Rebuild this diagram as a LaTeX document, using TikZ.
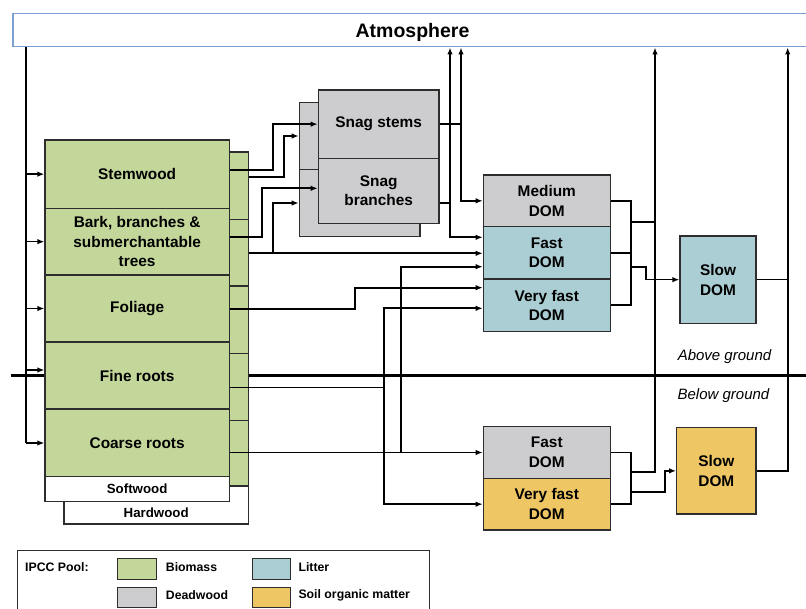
\documentclass[tikz,border=0pt]{standalone}
\usepackage{fontspec}
\setmainfont{Liberation Sans}
\usetikzlibrary{arrows.meta,calc}
\definecolor{bio}{RGB}{196,215,155}
\definecolor{dead}{RGB}{205,205,207}
\definecolor{lit}{RGB}{171,206,212}
\definecolor{soil}{RGB}{238,198,100}
\definecolor{atmb}{RGB}{125,160,212}
\definecolor{edge}{RGB}{45,45,45}
\tikzset{
  pool/.style={draw=edge, line width=1.2pt, inner sep=0pt, align=center,
    font=\fontsize{15.4}{19.7}\selectfont\bfseries},
  plain/.style={draw=edge, line width=1.2pt, inner sep=0pt},
  conn/.style={line width=1.7pt, draw=black},
  arr/.style={conn, -{Latex[length=7pt,width=5.5pt]}},
  ground/.style={line width=2.6pt, draw=black},
  lab/.style={inner sep=0pt, font=\fontsize{12.3}{14}\selectfont\bfseries},
  woodlab/.style={inner sep=0pt, font=\fontsize{13.3}{15}\selectfont\bfseries},
  zone/.style={inner sep=0pt, font=\fontsize{15}{18}\selectfont\itshape},
}
\begin{document}
\begin{tikzpicture}[x=1pt,y=-1pt]
\useasboundingbox (0,0) rectangle (806,609);
\fill[white] (0,0) rectangle (806,609);

% atmosphere
\node[draw=atmb, line width=1.6pt, fill=white, inner sep=0pt, minimum width=799pt, minimum height=33.2pt] (atm) at (412.5,30.1) {};
\node[inner sep=0pt, font=\fontsize{19.5}{22}\selectfont\bfseries] (atmlabel) at (412.5,32) {Atmosphere};

% ground line (behind biomass)
\coordinate (gl) at (11,375.5);
\coordinate (gr) at (806,375.5);
\draw[ground] (gl) -- (gr);

% hardwood (back) biomass stack
\node[plain, fill=white, minimum width=184.3pt, minimum height=38pt] (hw) at (156.15,505) {};
\node[plain, fill=bio, minimum width=184.3pt, minimum height=67.3pt] (hstem) at (156.15,185.65) {};
\node[plain, fill=bio, minimum width=184.3pt, minimum height=66.7pt] (hbark) at (156.15,252.65) {};
\node[plain, fill=bio, minimum width=184.3pt, minimum height=67.3pt] (hfol) at (156.15,319.65) {};
\node[plain, fill=bio, minimum width=184.3pt, minimum height=67.4pt] (hfine) at (156.15,387) {};
\node[plain, fill=bio, minimum width=184.3pt, minimum height=65.3pt] (hcoarse) at (156.15,453.35) {};
\node[woodlab] (hwl) at (156.2,512.8) {Hardwood};

% softwood (front) biomass stack
\node[pool, fill=bio, minimum width=184.3pt, minimum height=68.3pt] (stem) at (137.15,174.15) {Stemwood};
\node[pool, fill=bio, minimum width=184.3pt, minimum height=66.7pt] (bark) at (137.15,241.65) {Bark, branches \&\\submerchantable\\trees};
\node[pool, fill=bio, minimum width=184.3pt, minimum height=67pt] (fol) at (137.15,308.5) {Foliage};
\node[pool, fill=bio, minimum width=184.3pt, minimum height=67pt] (fine) at (137.15,375.5) {Fine roots};
\node[pool, fill=bio, minimum width=184.3pt, minimum height=67.7pt] (coarse) at (137.15,442.85) {Coarse roots};
\node[plain, fill=white, minimum width=184.3pt, minimum height=25pt, font=\fontsize{13.3}{15}\selectfont\bfseries] (sw) at (137.15,489.2) {Softwood};

% snags (back then front)
\node[plain, fill=dead, minimum width=120.7pt, minimum height=66.6pt] (hsnagS) at (359.65,136) {};
\node[plain, fill=dead, minimum width=120.7pt, minimum height=67.4pt] (hsnagB) at (359.65,203) {};
\node[pool, fill=dead, minimum width=120.7pt, minimum height=68.3pt] (snagS) at (378.65,124.15) {Snag stems};
\node[pool, fill=dead, minimum width=120.7pt, minimum height=65pt] (snagB) at (378.65,190.8) {Snag\\branches};

% above-ground DOM
\node[pool, fill=dead, minimum width=127pt, minimum height=51.7pt] (med) at (546.8,200.85) {Medium\\DOM};
\node[pool, fill=lit, minimum width=127pt, minimum height=52.3pt] (fast) at (546.8,252.85) {Fast\\DOM};
\node[pool, fill=lit, minimum width=127pt, minimum height=52.7pt] (vfast) at (546.8,305.35) {Very fast\\DOM};
\node[pool, fill=lit, minimum width=76pt, minimum height=87.3pt] (slowA) at (718,279.65) {Slow\\DOM};

% below-ground DOM
\node[pool, fill=dead, minimum width=127pt, minimum height=51.6pt] (bfast) at (546.8,452.5) {Fast\\DOM};
\node[pool, fill=soil, minimum width=127pt, minimum height=51.7pt] (bvfast) at (546.8,504.15) {Very fast\\DOM};
\node[pool, fill=soil, minimum width=79.3pt, minimum height=86.3pt] (slowB) at (716.35,470.85) {Slow\\DOM};

% zone labels
\node[zone] (above) at (724.5,356.7) {Above ground};
\node[zone] (below) at (723.5,396) {Below ground};

% atmosphere -> biomass
\draw[conn] (atm.south -| 26,0) -- (26,443);
\draw[arr] (26,174.15) -- (stem.west);
\draw[arr] (26,241.65) -- (bark.west);
\draw[arr] (26,308.5) -- (fol.west);
\draw[arr] (26,370) -- (fine.west |- 0,370);
\draw[arr] (26,443) -- (coarse.west |- 0,443);

% biomass -> snags
\draw[arr] (stem.east |- 0,170) -- (273.3,170) |- (snagS.west);
\draw[arr] (hstem.east |- 0,176.7) -- (284,176.7) |- (hsnagS.west);
\draw[arr] (bark.east |- 0,236.7) -- (262.3,236.7) |- (snagB.west |- 0,188.3);
\draw[arr] (hbark.east |- 0,253.3) -- (fast.west |- 0,253.3);
\draw[arr] (273.3,253.3) |- (hsnagB.west);

% biomass -> DOM
\draw[arr] (fol.east |- 0,309) -- (355,309) |- (vfast.west |- 0,287.7);
\draw[arr] (fine.east |- 0,387.5) -| (384,308.3) -- (vfast.west |- 0,308.3);
\draw[arr] (384,387.5) |- (bvfast.west);
\draw[arr] (coarse.east |- 0,452.5) -- (bfast.west);
\draw[arr] (400.7,452.5) |- (fast.west |- 0,266.7);

% snags -> DOM and atmosphere
\draw[arr] (snagS.east) -| (461,200.85) -- (med.west);
\draw[arr] (461,124.15) -- (atm.south -| 461,0);
\draw[arr] (snagB.east |- 0,203.3) -| (450,237.3) -- (fast.west |- 0,237.3);
\draw[arr] (450,203.3) -- (atm.south -| 450,0);

% above-ground DOM outputs
\draw[conn] (med.east) -| (630.7,305.35) -- (vfast.east);
\draw[conn] (fast.east) -- (630.7,252.85);
\draw[conn] (630.7,221.7) -- (655,221.7);
\draw[arr] (630.7,266.7) -- (646,266.7) |- (slowA.west);
\draw[conn] (slowA.east) -- (787.7,279.65);

% below-ground DOM outputs
\draw[conn] (bfast.east) -| (630.7,504.15) -- (bvfast.east);
\draw[arr] (630.7,471.7) -| (atm.south -| 655,0);
\draw[arr] (630.7,491.7) -- (665,491.7) |- (slowB.west);
\draw[arr] (slowB.east) -| (atm.south -| 787.7,0);

% legend
\node[draw=edge, line width=0.9pt, inner sep=0pt, minimum width=412pt, minimum height=70pt] (legend) at (223.3,585) {};
\node[lab, anchor=west] (ipcc) at (25,566.7) {IPCC Pool:};
\node[plain, line width=0.9pt, fill=bio, minimum width=39.4pt, minimum height=20.6pt] (sw1) at (137,569) {};
\node[plain, line width=0.9pt, fill=dead, minimum width=39.4pt, minimum height=20.6pt] (sw2) at (137,597.6) {};
\node[plain, line width=0.9pt, fill=lit, minimum width=38.4pt, minimum height=20.6pt] (sw3) at (271.5,569) {};
\node[plain, line width=0.9pt, fill=soil, minimum width=38.4pt, minimum height=20.6pt] (sw4) at (271.5,597.6) {};
\node[lab, anchor=west] (l1) at (165.7,567.5) {Biomass};
\node[lab, anchor=west] (l2) at (165.7,595.5) {Deadwood};
\node[lab, anchor=west] (l3) at (298.3,567.5) {Litter};
\node[lab, anchor=west] (l4) at (298.3,595.5) {Soil organic matter};
\end{tikzpicture}
\end{document}
